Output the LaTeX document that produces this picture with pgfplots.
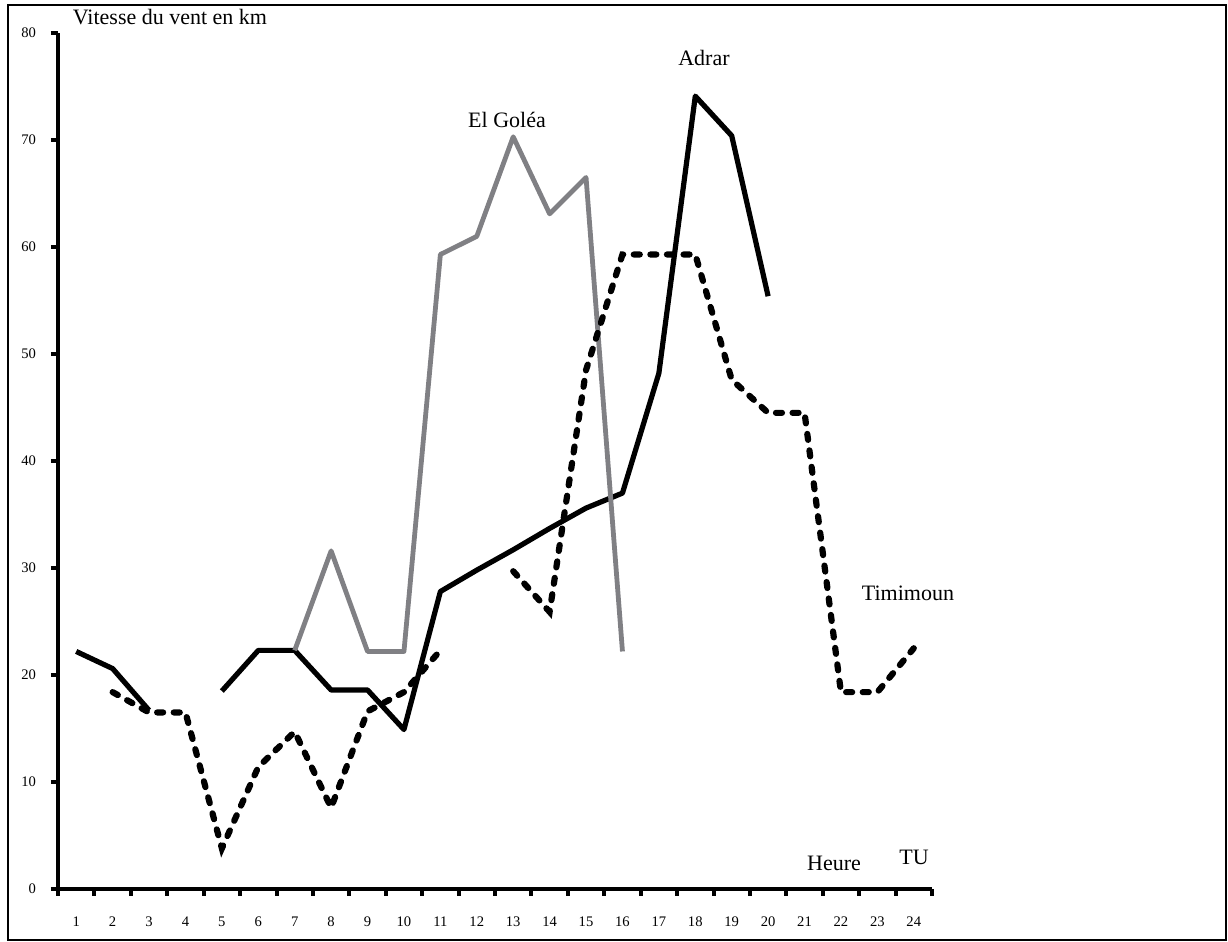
\documentclass[border=0pt]{standalone}
\usepackage{fontspec}
\setmainfont{Liberation Serif}
\usepackage{pgfplots}
\pgfplotsset{compat=1.18}

\definecolor{golea}{RGB}{128,128,132}

% 1 px of the reference = 0.5pt here
\begin{document}
\begin{tikzpicture}
\useasboundingbox (0,0) rectangle (614pt,471pt);
\draw[line width=1.2pt] (4pt,468.5pt) rectangle (613pt,1pt);

\begin{axis}[
  at={(29pt,26.5pt)}, anchor=south west,
  scale only axis, width=437pt, height=428pt,
  xmin=0.5, xmax=24.5, ymin=0, ymax=80,
  axis lines=left,
  axis line style={-, line width=2pt},
  tick align=outside,
  major tick length=3.5pt,
  tick style={line width=2pt, black},
  xtick={0.5,1.5,...,24.5},
  xticklabels={1,2,3,4,5,6,7,8,9,10,11,12,13,14,15,16,17,18,19,20,21,22,23,24,{}},
  xticklabel style={xshift=9.1pt, yshift=-7pt},
  ytick={0,10,...,80},
  yticklabel style={xshift=-4pt},
  tick label style={font=\fontsize{7.3}{8}\selectfont},
  /pgf/number format/assume math mode=true,
  unbounded coords=jump,
]
% Adrar
\addplot[black, line width=2.6pt, line join=round] coordinates {
  (1,22.2) (2,20.6) (3,16.7) (4,nan) (5,18.5) (6,22.3) (7,22.3) (8,18.6)
  (9,18.6) (10,14.9) (11,27.8) (12,29.8) (13,31.7) (14,33.7) (15,35.6)
  (16,37.0) (17,48.2) (18,74.1) (19,70.4) (20,55.4)
};
% El Golea
\addplot[golea, line width=2.4pt, line join=round] coordinates {
  (7,22.3) (8,31.6) (9,22.2) (10,22.2) (11,59.3) (12,61.0) (13,70.3)
  (14,63.1) (15,66.5) (16,22.2)
};
% Timimoun
\addplot[black, line width=3.1pt, line cap=round, dash pattern=on 3pt off 5.3pt] coordinates {
  (2,18.4) (3,16.5) (4,16.5) (5,3.8) (6,11.4) (7,14.7) (8,7.6) (9,16.6)
  (10,18.4) (11,22.3) (12,nan) (13,29.7) (14,25.9) (15,48.5) (16,59.3)
  (17,59.3) (18,59.3) (19,47.6) (20,44.5) (21,44.5) (22,18.4) (23,18.4)
  (24,22.5)
};
\end{axis}

\begin{scope}[font=\fontsize{11}{13}\selectfont]
\node at (85pt,462.5pt) {Vitesse du vent en km};
\node at (253.5pt,411pt) {El Goléa};
\node at (352pt,442pt) {Adrar};
\node at (454pt,174.5pt) {Timimoun};
\node at (417pt,39.5pt) {Heure};
\node at (457pt,42.5pt) {TU};
\end{scope}
\end{tikzpicture}
\end{document}
